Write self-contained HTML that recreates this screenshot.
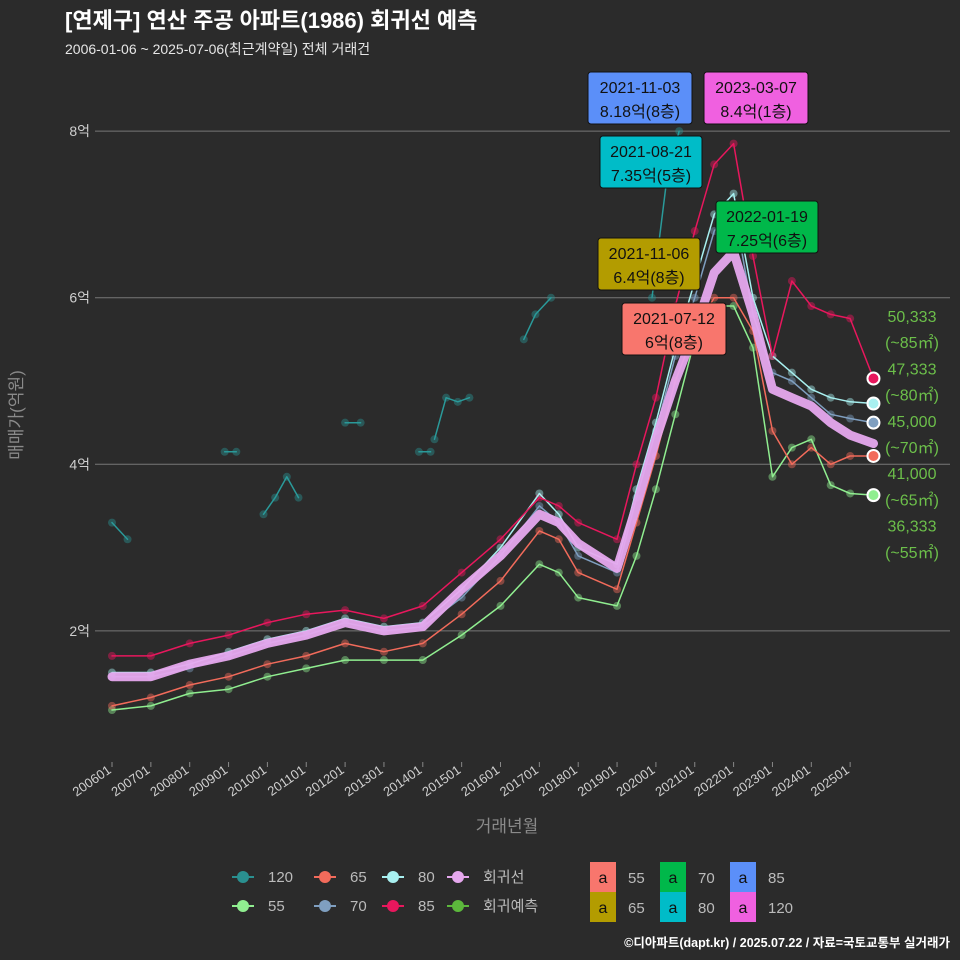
<!DOCTYPE html>
<html><head><meta charset="utf-8">
<style>
html,body{margin:0;padding:0;background:#2b2b2b;}
svg{display:block;font-family:"Liberation Sans","Noto Sans CJK KR",sans-serif;}
</style></head>
<body>
<svg id="chart" width="960" height="960" viewBox="0 0 960 960">
<rect x="0" y="0" width="960" height="960" fill="#2b2b2b"/>
<text x="65" y="28" fill="#ffffff" font-size="22" font-weight="bold">[연제구] 연산 주공 아파트(1986) 회귀선 예측</text>
<text x="65" y="54" fill="#e6e6e6" font-size="14">2006-01-06 ~ 2025-07-06(최근계약일) 전체 거래건</text>
<g id="grid"></g>
<g id="series"></g>
<g id="annot"></g>
<text x="22" y="415" fill="#8a8a8a" font-size="17" transform="rotate(-90 22 415)" text-anchor="middle">매매가(억원)</text>
<text x="507" y="832" fill="#8a8a8a" font-size="17" text-anchor="middle">거래년월</text>
<g id="legend"></g>
<text x="950" y="947" fill="#ffffff" font-size="12.5" font-weight="bold" text-anchor="end">©디아파트(dapt.kr) / 2025.07.22 / 자료=국토교통부 실거래가</text>
</svg>
<script>
const NS="http://www.w3.org/2000/svg";
const yTicks=[2,4,6,8];
const yTickLabels=["2억","4억","6억","8억"];
const xTickYears=[2006,2007,2008,2009,2010,2011,2012,2013,2014,2015,2016,2017,2018,2019,2020,2021,2022,2023,2024,2025];
const xTickLabels=["200601","200701","200801","200901","201001","201101","201201","201301","201401","201501","201601","201701","201801","201901","202001","202101","202201","202301","202401","202501"];
const times=[2006,2007,2008,2009,2010,2011,2012,2013,2014,2015,2016,2017,2017.5,2018,2019,2019.5,2020,2020.5,2021,2021.5,2022,2022.5,2023,2023.5,2024,2024.5,2025,2025.6];
const s85=[1.7,1.7,1.85,1.95,2.1,2.2,2.25,2.15,2.3,2.7,3.1,3.6,3.5,3.3,3.1,4.0,4.8,5.9,6.8,7.6,7.85,6.5,5.3,6.2,5.9,5.8,5.75,5.03];
const s80=[1.5,1.5,1.6,1.75,1.9,2.0,2.15,2.05,2.1,2.5,3.0,3.65,3.4,3.0,2.8,3.7,4.5,5.4,6.2,7.0,7.25,6.0,5.3,5.1,4.9,4.8,4.75,4.73];
const s70=[1.45,1.45,1.55,1.7,1.85,1.95,2.1,2.0,2.05,2.4,2.9,3.5,3.3,2.9,2.7,3.6,4.4,5.3,6.0,6.8,7.1,5.8,5.1,5.0,4.8,4.6,4.55,4.5];
const s65=[1.1,1.2,1.35,1.45,1.6,1.7,1.85,1.75,1.85,2.2,2.6,3.2,3.1,2.7,2.5,3.3,4.1,5.0,5.6,6.0,6.0,5.6,4.4,4.0,4.2,4.0,4.1,4.1];
const s55=[1.05,1.1,1.25,1.3,1.45,1.55,1.65,1.65,1.65,1.95,2.3,2.8,2.7,2.4,2.3,2.9,3.7,4.6,5.5,5.9,5.9,5.4,3.85,4.2,4.3,3.75,3.65,3.63];
const sReg=[1.45,1.45,1.6,1.7,1.85,1.95,2.1,2.0,2.05,2.5,2.9,3.4,3.3,3.05,2.75,3.5,4.3,5.0,5.6,6.3,6.55,5.8,4.9,4.8,4.7,4.5,4.35,4.25];
const t120=[2006,2006.4,null,2008.9,2009.2,null,2009.9,2010.2,2010.5,2010.8,null,2012,2012.4,null,2013.9,2014.2,null,2014.3,2014.6,2014.9,2015.2,null,2016.6,2016.9,2017.3,null,2019.9,2020.3,2020.6];
const v120=[3.3,3.1,null,4.15,4.15,null,3.4,3.6,3.85,3.6,null,4.5,4.5,null,4.15,4.15,null,4.3,4.8,4.75,4.8,null,5.5,5.8,6.0,null,6.0,7.5,8.0];
const endLabels=["50,333","(~85㎡)","47,333","(~80㎡)","45,000","(~70㎡)","41,000","(~65㎡)","36,333","(~55㎡)"];

const X=t=>112+(t-2006)*38.85;
const Y=v=>797.5-v*83.3;
function el(tag,attrs,parent,txt){const e=document.createElementNS(NS,tag);for(const k in attrs)e.setAttribute(k,attrs[k]);if(txt!==undefined)e.textContent=txt;parent.appendChild(e);return e;}

const grid=document.getElementById('grid');
yTicks.forEach((v,i)=>{
 const l=el('line',{x1:95,x2:950,y1:Y(v),y2:Y(v),stroke:'#777','stroke-width':1},grid);
 
 
 const t=el('text',{x:90,y:Y(v)+5,fill:'#cfcfcf','font-size':14,'text-anchor':'end'},grid,yTickLabels[i]);
 
 
});
xTickYears.forEach((yr,i)=>{
 const x=X(yr);
 const tk=el('line',{x1:x,x2:x,y1:762,y2:767,stroke:'#888'},grid);
 
 
 const t=el('text',{x:x,y:772,fill:'#cfcfcf','font-size':13,'text-anchor':'end',transform:`rotate(-35 ${x} 772)`},grid,xTickLabels[i]);
 
 
});

const sg=document.getElementById('series');
function line(ts,vs,color,w,name,op){
 let d='';let pen=false;
 ts.forEach((t,i)=>{if(t===null||vs[i]===null){pen=false;return;}d+=(pen?'L':'M')+X(t).toFixed(1)+','+Y(vs[i]).toFixed(1);pen=true;});
 const p=el('path',{d:d,fill:'none',stroke:color,'stroke-width':w,'stroke-linejoin':'round','stroke-linecap':'round',opacity:op||1},sg);
 
 
}
function dots(ts,vs,color,name){
 ts.forEach((t,i)=>{if(t===null||vs[i]===null)return;
  const c=el('circle',{cx:X(t),cy:Y(vs[i]),r:4,fill:color,opacity:0.45},sg);
  
  
 });
}
const specs=[[s55,'#90ee90','series-55'],[s65,'#f26b5b','series-65'],[s70,'#7f9fc0','series-70'],[s80,'#a8f0f0','series-80'],[s85,'#e8175d','series-85']];
specs.forEach(s=>dots(times,s[0],s[1],s[2]+'-point'));
dots(t120,v120,'#2a9090','series-120-point');
line(t120,v120,'#2a9a9a',1.5,'series-120-line');
specs.forEach(s=>line(times,s[0],s[1],1.5,s[2]+'-line'));
line(times,sReg,'#e6a8ee',9,'regression-line',0.95);
// end markers
const ends=[[s85,'#e8175d'],[s80,'#a8f0f0'],[s70,'#7f9fc0'],[s65,'#f26b5b'],[s55,'#90ee90']];
ends.forEach(e=>{const v=e[0][e[0].length-1];
 const c=el('circle',{cx:X(2025.6),cy:Y(v),r:6,fill:e[1],stroke:'#fff','stroke-width':2},sg);
 
 
});
// end labels
const an=document.getElementById('annot');
endLabels.forEach((t,i)=>{
 const tx=el('text',{x:912,y:322+i*26.2,fill:'#6cbf4a','font-size':16,'text-anchor':'middle'},an,t);
 
 
});
// callout boxes
const boxes=[
 [588,72,104,52,'#5b8ff9','2021-11-03','8.18억(8층)'],
 [704,72,104,52,'#f060e0','2023-03-07','8.4억(1층)'],
 [600,136,102,52,'#00bcc8','2021-08-21','7.35억(5층)'],
 [716,201,102,52,'#00b84a','2022-01-19','7.25억(6층)'],
 [598,238,102,52,'#b39c00','2021-11-06','6.4억(8층)'],
 [622,303,104,52,'#f8766d','2021-07-12','6억(8층)']
];
boxes.forEach(b=>{
 const r=el('rect',{x:b[0],y:b[1],width:b[2],height:b[3],rx:3,fill:b[4],stroke:'#111','stroke-width':1},an);
 
 
 const t1=el('text',{x:b[0]+b[2]/2,y:b[1]+21,fill:'#111','font-size':16,'text-anchor':'middle'},an,b[5]);
 
 
 const t2=el('text',{x:b[0]+b[2]/2,y:b[1]+45,fill:'#111','font-size':16,'text-anchor':'middle'},an,b[6]);
 
 
});
// legend
const lg=document.getElementById('legend');
const legItems=[[232,877,'#2a9090','120'],[232,906,'#90ee90','55'],[314,877,'#f26b5b','65'],[314,906,'#7f9fc0','70'],[382,877,'#a8f0f0','80'],[382,906,'#e8175d','85'],[447,877,'#e6a8ee','회귀선'],[447,906,'#5cb83c','회귀예측']];
legItems.forEach(it=>{
 const g=el('g',{},lg);
 
 
 el('line',{x1:it[0],x2:it[0]+22,y1:it[1],y2:it[1],stroke:it[2],'stroke-width':2},g);
 el('circle',{cx:it[0]+11,cy:it[1],r:6,fill:it[2]},g);
 el('text',{x:it[0]+36,y:it[1]+5,fill:'#bbb','font-size':15},g,it[3]);
});
const legBoxes=[[590,862,'#f8766d','55'],[660,862,'#00b84a','70'],[730,862,'#5b8ff9','85'],[590,892,'#b39c00','65'],[660,892,'#00bcc8','80'],[730,892,'#f060e0','120']];
legBoxes.forEach(it=>{
 const g=el('g',{},lg);
 
 
 el('rect',{x:it[0],y:it[1],width:26,height:30,fill:it[2]},g);
 el('text',{x:it[0]+13,y:it[1]+21,fill:'#111','font-size':16,'text-anchor':'middle'},g,'a');
 el('text',{x:it[0]+38,y:it[1]+21,fill:'#bbb','font-size':15},g,it[3]);
});
</script>
</body></html>
